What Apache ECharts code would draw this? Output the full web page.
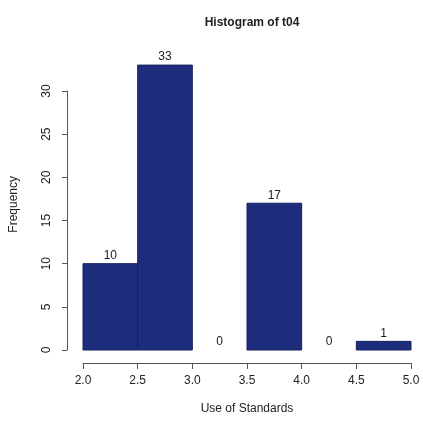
<!DOCTYPE html>
<html>
<head>
<meta charset="utf-8">
<script src="https://cdn.jsdelivr.net/npm/echarts@6/dist/echarts.min.js"></script>
<style>
  html, body { margin: 0; padding: 0; background: #fff; }
  #chart { width: 423px; height: 427px; }
</style>
</head>
<body>
<div id="chart"></div>
<script>
// Histogram bins of t04 (Use of Standards)
const binStarts = [2.0, 2.5, 3.0, 3.5, 4.0, 4.5];
const binEnds   = [2.5, 3.0, 3.5, 4.0, 4.5, 5.0];
const counts    = [10, 33, 0, 17, 0, 1];
const xTicks    = ['2.0', '2.5', '3.0', '3.5', '4.0', '4.5', '5.0'];

const FONT = '"Liberation Sans", Arial, Helvetica, sans-serif';
const TXT = '#222';

const chart = echarts.init(document.getElementById('chart'), null, { renderer: 'canvas' });

const data = binStarts.map((s, i) => [s, binEnds[i], counts[i]]);

chart.setOption({
  backgroundColor: '#ffffff',
  animation: false,
  title: {
    text: 'Histogram of t04',
    left: 247,
    top: 12,
    textAlign: 'center',
    textStyle: { fontFamily: FONT, fontSize: 12, fontWeight: 'bold', color: TXT }
  },
  grid: { left: 83, right: 12, top: 91, bottom: 77 },
  xAxis: {
    type: 'value',
    min: 2, max: 5, interval: 0.5,
    offset: 13,
    name: 'Use of Standards',
    nameLocation: 'middle',
    nameGap: 40,
    nameTextStyle: { fontFamily: FONT, fontSize: 12, color: TXT },
    axisLine: { onZero: false, lineStyle: { color: '#555', width: 1 } },
    axisTick: { show: true, length: 6, lineStyle: { color: '#555' } },
    axisLabel: {
      fontFamily: FONT, fontSize: 12, color: TXT, margin: 12,
      formatter: v => xTicks[Math.round((v - 2) / 0.5)] || ''
    },
    splitLine: { show: false }
  },
  yAxis: {
    type: 'value',
    min: 0, max: 30, interval: 5,
    offset: 16,
    axisLine: { show: true, lineStyle: { color: '#555', width: 1 } },
    axisTick: { show: true, length: 5, lineStyle: { color: '#555' } },
    axisLabel: {
      fontFamily: FONT, fontSize: 12, color: TXT, rotate: 90, margin: 14
    },
    splitLine: { show: false }
  },
  graphic: [{
    type: 'text',
    left: 8,
    top: 176,
    rotation: Math.PI / 2,
    style: { text: 'Frequency', font: '12px ' + FONT, fill: TXT }
  }],
  series: [{
    type: 'custom',
    clip: false,
    data: data,
    encode: { x: [0, 1], y: 2 },
    renderItem: function (params, api) {
      const p0 = api.coord([api.value(0), 0]);
      const p1 = api.coord([api.value(1), api.value(2)]);
      const x = p0[0], w = p1[0] - p0[0];
      const yTop = p1[1], h = p0[1] - p1[1];
      const children = [];
      if (h > 0) {
        children.push({
          type: 'rect',
          shape: { x: x, y: yTop, width: w, height: h },
          style: { fill: '#1e2c7c', stroke: '#16215f', lineWidth: 1 }
        });
      }
      children.push({
        type: 'text',
        style: {
          x: x + w / 2, y: yTop - 2,
          text: String(api.value(2)),
          textAlign: 'center', textVerticalAlign: 'bottom',
          font: '12px ' + FONT, fill: TXT
        }
      });
      return { type: 'group', children: children };
    }
  }]
});
</script>
</body>
</html>
